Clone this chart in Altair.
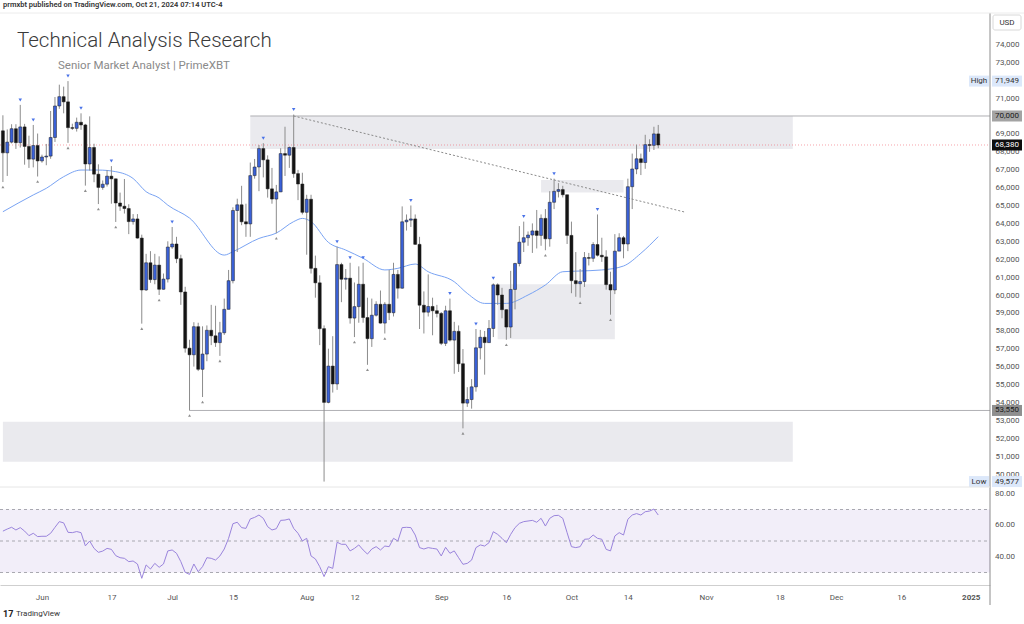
import altair as alt
import pandas as pd

START = "2024-05-23"

opens = [69170, 67940, 68540, 69290, 68510, 69390, 68300, 67590, 68350,
         67490, 67710, 67760, 68800, 70560, 71080, 70790, 69350, 69310, 69650,
         69500, 67320, 68240, 66750, 66010, 66190, 66640, 66490, 65140, 64960,
         64830, 64100, 64250, 63180, 60280, 61800, 60860, 61670, 60320, 60890,
         62680, 62850, 62030, 60170, 57030, 56660, 58230, 55850, 56700, 58030,
         57720, 57340, 57890, 59200, 60800, 64720, 65040, 64090, 63970, 66670,
         67150, 68180, 67550, 65930, 65360, 65760, 67900, 67810, 68240, 66780, 66200,
         64620, 65350, 61490, 60680, 58120, 54000, 56030, 55030, 61700, 60880,
         60940, 58710, 59350, 60600, 58740, 57560, 58870, 59480, 58430, 59480,
         59010, 61150, 60380, 64090, 64180, 64250, 62830, 59430, 59040, 59360, 59120,
         58970, 57300, 59120, 57480, 57970, 56160, 53960, 54160, 54870, 57050,
         57640, 57340, 58130, 60570, 60000, 59180, 58210, 60310, 61760, 62950,
         63200, 63350, 63580, 63330, 64280, 63140, 65180, 65790, 65890, 65600,
         63330, 60800, 60630, 60750, 62090, 62050, 62820, 62220, 62130, 60580,
         60280, 62450, 63200, 62850, 66050, 67040, 67610, 67400, 68400, 68360, 69000]
highs = [70040, 69250, 69540, 69540, 70620, 69560, 68900, 69500, 69020,
         67840, 68440, 70280, 71060, 71750, 71640, 71949, 69570, 69910, 70150,
         69560, 69980, 68450, 67300, 66400, 66980, 67200, 66500, 65720, 66480,
         65070, 64520, 64520, 63370, 62300, 62450, 62300, 62160, 61200, 63000,
         63800, 63250, 62250, 60460, 57500, 58480, 58450, 58250, 58300, 59450,
         59400, 58500, 59800, 61400, 64900, 65380, 66100, 65100, 67400, 67600,
         68380, 68480, 67800, 67100, 66150, 68200, 69400, 68300, 70080, 66990, 66830,
         65600, 65600, 62200, 61100, 58300, 57000, 57700, 62700, 61800, 61450,
         61800, 60700, 61600, 61800, 59850, 59800, 59650, 60250, 59600, 61400,
         61800, 61400, 64950, 64500, 65000, 64500, 63250, 60200, 61150, 59850, 59450,
         59050, 59400, 59800, 58500, 58300, 56980, 54850, 55300, 58100, 58050,
         57990, 58600, 60650, 60650, 60400, 59200, 61350, 61800, 63850, 64100,
         63550, 64000, 64750, 64500, 64800, 65800, 66500, 66250, 66100, 65600,
         64100, 62400, 61450, 62400, 62350, 62950, 64500, 63200, 62500, 61300,
         63400, 63450, 63300, 66500, 67900, 68400, 67900, 68950, 68700, 69400, 69500]
lows = [66310, 66650, 68470, 68160, 68240, 67280, 67100, 67130, 66620,
        67390, 67250, 67610, 68550, 70400, 70150, 68500, 69220, 69130, 69230,
        66110, 66950, 66300, 65080, 65880, 66060, 65100, 64080, 64700, 64550,
        63400, 63930, 63150, 58400, 60230, 60680, 60600, 60000, 60300, 60700,
        62580, 61780, 59450, 56780, 53550, 56000, 55750, 54300, 56300, 57200,
        57100, 56600, 57770, 59200, 60650, 62400, 63900, 63250, 63250, 66500,
        65800, 66570, 65440, 65100, 63450, 65750, 66650, 67100, 66550, 65300, 64500,
        62250, 61200, 59850, 57200, 49577, 53950, 54550, 54700, 59600, 60300,
        58400, 57650, 58450, 58450, 56100, 57100, 58800, 58400, 57850, 58600,
        58800, 59800, 60350, 63600, 63800, 62800, 58100, 57850, 58800, 57750, 58750,
        57200, 57150, 57400, 55600, 55700, 52550, 53750, 53650, 54600, 56400,
        55550, 57330, 57650, 59450, 58700, 57500, 57600, 59200, 61600, 62400,
        62750, 62350, 62600, 62750, 62500, 62700, 64800, 65450, 65450, 62850,
        60100, 59900, 59850, 60450, 61650, 61850, 62150, 61850, 60300, 58900,
        60050, 62450, 62050, 62450, 64800, 66750, 66700, 67050, 68000, 68100, 68200]
closes = [67940, 68540, 69290, 68510, 69390, 68300, 67590, 68350, 67490,
          67710, 67760, 68800, 70560, 71080, 70790, 69350, 69310, 69650, 69500,
          67320, 68240, 66750, 66010, 66190, 66640, 66490, 65140, 64960, 64830,
          64100, 64250, 63180, 60280, 61800, 60860, 61670, 60320, 60890, 62680,
          62850, 62030, 60170, 57030, 56660, 58230, 55850, 56700, 58030, 57720,
          57340, 57890, 59200, 60800, 64720, 65040, 64090, 63970, 66670, 67150,
          68180, 67550, 65930, 65360, 65760, 67900, 67810, 68240, 66780, 66200, 64620,
          65350, 61490, 60680, 58120, 54000, 56030, 55030, 61700, 60880, 60940,
          58710, 59350, 60600, 58740, 57560, 58870, 59480, 58430, 59480, 59010,
          61150, 60380, 64090, 64180, 64250, 62830, 59430, 59040, 59360, 59120, 58970,
          57300, 59120, 57480, 57970, 56160, 53960, 54160, 54870, 57050, 57640,
          57340, 58130, 60570, 60000, 59180, 58210, 60310, 61760, 62950, 63200,
          63350, 63580, 63330, 64280, 63140, 65180, 65790, 65890, 65600, 63330,
          60800, 60630, 60750, 62090, 62050, 62820, 62220, 62130, 60580, 60280,
          62450, 63200, 62850, 66050, 67040, 67610, 67400, 68400, 68360, 69000, 68380]

rsi = [56.3, 57.6, 58.7, 57.0, 58.5, 56.3, 53.4, 54.9, 52.8, 53.0, 53.0, 54.9, 58.7,
       62.3, 61.5, 55.5, 55.3, 56.0, 55.3, 46.9, 50.0, 45.3, 42.8, 43.6, 45.3, 44.7,
       40.7, 39.4, 39.0, 36.9, 37.3, 35.4, 26.3, 34.8, 32.2, 35.8, 33.3, 35.4, 43.7,
       44.3, 42.2, 36.9, 30.1, 28.8, 35.4, 30.5, 33.7, 39.4, 39.0, 37.9, 40.5, 44.9,
       51.7, 61.0, 61.9, 58.5, 58.0, 64.0, 65.0, 66.5, 64.4, 59.1, 57.0, 57.8, 63.1,
       63.3, 64.0, 58.0, 54.9, 50.0, 51.7, 40.5, 38.6, 33.7, 27.4, 33.7, 32.6, 49.2,
       47.9, 47.9, 43.7, 45.3, 47.5, 44.3, 41.7, 44.9, 46.4, 44.3, 46.8, 46.4, 51.7,
       50.0, 58.5, 58.7, 58.5, 53.8, 45.8, 44.9, 45.8, 45.3, 44.9, 40.5, 46.0, 42.2,
       43.7, 39.4, 35.2, 35.8, 37.9, 45.8, 47.5, 46.8, 48.9, 55.9, 54.2, 51.7, 48.9,
       54.2, 58.5, 61.2, 62.3, 62.7, 63.1, 61.9, 64.4, 59.5, 64.4, 66.1, 66.3, 64.4,
       55.3, 46.4, 45.8, 46.4, 51.1, 51.3, 53.8, 51.7, 51.1, 44.7, 43.7, 53.2, 55.3,
       53.8, 63.8, 66.5, 67.4, 66.5, 68.6, 69.0, 70.3, 66.5]

ma_dates = ["2024-05-23", "2024-05-30", "2024-06-02", "2024-06-06", "2024-06-10",
            "2024-06-14", "2024-06-18", "2024-06-22", "2024-06-25", "2024-06-28",
            "2024-06-30", "2024-07-05", "2024-07-13", "2024-07-15", "2024-07-21",
            "2024-07-25", "2024-07-29", "2024-07-31", "2024-08-02", "2024-08-06",
            "2024-08-10", "2024-08-14", "2024-08-19", "2024-08-22", "2024-08-26",
            "2024-08-29", "2024-09-04", "2024-09-07", "2024-09-11", "2024-09-16",
            "2024-09-21", "2024-09-25", "2024-09-29", "2024-10-03", "2024-10-08",
            "2024-10-13", "2024-10-17", "2024-10-21"]
ma_values = [64650, 65590, 65960, 66610, 66980, 66980, 66890, 66510, 65770, 65420,
             65020, 64300, 62230, 62420, 63160, 63460, 64100, 64280, 64100, 62940,
             62510, 62050, 61400, 61490, 61730, 61300, 60740, 60090, 59530, 59530,
             60000, 60560, 61300, 61340, 61400, 61620, 62330, 63260]

pivot_high_dates = ["2024-05-27", "2024-05-30", "2024-06-07", "2024-06-10", "2024-06-17",
                    "2024-07-01", "2024-07-22", "2024-07-29", "2024-08-08", "2024-08-11",
                    "2024-08-14", "2024-08-25", "2024-09-03", "2024-09-09", "2024-09-13",
                    "2024-09-20", "2024-09-27", "2024-10-07"]
pivot_low_dates = ["2024-05-23", "2024-05-31", "2024-06-07", "2024-06-11", "2024-06-14",
                   "2024-06-18", "2024-06-24", "2024-06-28", "2024-07-05", "2024-07-08",
                   "2024-07-12", "2024-07-25", "2024-08-12", "2024-08-15", "2024-08-19",
                   "2024-09-06", "2024-09-16", "2024-09-25", "2024-10-03", "2024-10-10"]

box_start = ["2024-07-19", "2024-09-24", "2024-09-14", "2024-05-23"]
box_end = ["2024-11-21", "2024-10-13", "2024-10-11", "2024-11-21"]
box_top = [70000, 66430, 60600, 52920]
box_bottom = [68150, 65720, 57530, 50690]

hline_start = ["2024-07-19", "2024-07-05"]
hline_price = [70000, 53550]

trend_dates = ["2024-07-29", "2024-10-27"]
trend_prices = [70000, 64640]

last_price = 68380
rsi_levels = [70, 50, 30]
rsi_label_values = [80, 40, 60]

tick_dates = ["2024-06-01", "2024-06-17", "2024-07-01", "2024-07-15", "2024-08-01",
              "2024-08-12", "2024-09-01", "2024-09-16", "2024-10-01", "2024-10-14",
              "2024-11-01", "2024-11-18", "2024-12-01", "2024-12-16", "2025-01-01"]
tick_labels = ["Jun", "17", "Jul", "15", "Aug", "12", "Sep", "16", "Oct", "14",
               "Nov", "18", "Dec", "16", "2025"]
price_ticks = [50000, 51000, 52000, 53000, 54000, 55000, 56000, 57000, 58000, 59000,
               60000, 61000, 62000, 63000, 64000, 65000, 66000, 67000, 68000, 69000,
               71000, 73000, 74000]

t0 = pd.Timestamp(START)


def day(s):
    return (pd.Timestamp(s) - t0).days


FONT = "Roboto"
W, H = 990, 572
XS = alt.Scale(domain=[-0.668, 227.44], nice=False, zero=False, padding=0)
PS = alt.Scale(domain=[49274, 75754], range=[474, 0], nice=False, zero=False)
RS = alt.Scale(domain=[22.06, 84.29], range=[572, 474], nice=False, zero=False)

tick_vals = [day(s) for s in tick_dates]
label_expr = " : ".join(f"datum.value == {v} ? '{l}'" for v, l in zip(tick_vals, tick_labels)) + " : ''"
XA = alt.Axis(values=tick_vals, labelExpr=label_expr, grid=False, ticks=False,
              domain=True, domainColor="#cfcfcf", labelFont=FONT, labelFontSize=8,
              labelColor="#555555", labelPadding=8, title=None, labelFlush=False,
              labelOverlap=False,
              labelFontWeight={"condition": {"test": f"datum.value == {day('2025-01-01')}", "value": "bold"},
                               "value": "normal"})
PA = alt.Axis(orient="right", values=price_ticks, format=",", formatType="number",
              labelExpr="format(datum.value, ',')", grid=False, ticks=False,
              domain=False, labelFont=FONT, labelFontSize=8, labelColor="#555555",
              labelPadding=5, title=None, labelOverlap=False)


def X(f):
    return alt.X(f, type="quantitative", scale=XS, axis=XA)


def YP(f):
    return alt.Y(f, type="quantitative", scale=PS, axis=PA)


def YR(f):
    return alt.Y(f, type="quantitative", scale=RS, axis=None)


df = pd.DataFrame({"d": list(range(len(closes))), "o": opens, "h": highs, "l": lows,
                   "c": closes, "rsi": rsi})
df["dir"] = ["up" if c >= o else "down" for o, c in zip(opens, closes)]

one = pd.DataFrame({"k": [0]})

# ---------- price pane ----------
boxes = alt.Chart(pd.DataFrame({"x0": [day(s) for s in box_start], "x1": [day(s) for s in box_end],
                                "p0": box_top, "p1": box_bottom})).mark_rect(
    color="#e2e2e8", opacity=0.72).encode(x=X("x0"), x2="x1", y=YP("p0"), y2="p1")

hlines = alt.Chart(pd.DataFrame({"x0": [day(s) for s in hline_start], "p": hline_price})).mark_rule(
    color="#b0b0b4", strokeWidth=1).encode(x=X("x0"), x2=alt.value(W), y=YP("p"))

curline = alt.Chart(pd.DataFrame({"p": [last_price]})).mark_rule(
    color="#f05a66", opacity=0.55, strokeDash=[1, 2], strokeWidth=1).encode(
    x=alt.value(0), x2=alt.value(W), y=YP("p"))

trend = alt.Chart(pd.DataFrame({"d": [day(s) for s in trend_dates], "p": trend_prices})).mark_line(
    color="#8a8a8a", strokeDash=[2, 2], strokeWidth=1).encode(x=X("d"), y=YP("p"))

ma = alt.Chart(pd.DataFrame({"d": [day(s) for s in ma_dates], "p": ma_values})).mark_line(
    color="#79a3f3", strokeWidth=1, interpolate="monotone").encode(x=X("d"), y=YP("p"))

wicks = alt.Chart(df).mark_rule(color="#8c8c8c", strokeWidth=1).encode(
    x=X("d"), y=YP("l"), y2="h")

bodies = alt.Chart(df).mark_bar(size=3, stroke="#1d1d1d", strokeWidth=0.5).encode(
    x=X("d"), y=YP("o"), y2="c",
    color=alt.Color("dir:N", scale=alt.Scale(domain=["up", "down"], range=["#3a61d8", "#141414"]),
                    legend=None))

hi_idx = [day(s) for s in pivot_high_dates]
lo_idx = [day(s) for s in pivot_low_dates]
himk = alt.Chart(pd.DataFrame({"d": hi_idx, "p": [highs[i] for i in hi_idx]})).mark_point(
    shape="triangle-down", filled=True, size=12, color="#4a73e8", opacity=1, yOffset=-5).encode(
    x=X("d"), y=YP("p"))
lomk = alt.Chart(pd.DataFrame({"d": lo_idx, "p": [lows[i] for i in lo_idx]})).mark_point(
    shape="triangle-up", filled=True, size=9, color="#8e8e8e", opacity=1, yOffset=5).encode(
    x=X("d"), y=YP("p"))

lab = pd.DataFrame({"p": [71949, 70000, 68380, 53550, 49577],
                    "txt": ["71,949", "70,000", "68,380", "53,550", "49,577"],
                    "bg": ["#dce8fa", "#a3a3a3", "#0e0e0e", "#8f8f8f", "#dce8fa"],
                    "fg": ["#333333", "#1a1a1a", "#ffffff", "#1a1a1a", "#333333"]})
lab_bg = alt.Chart(lab).mark_rule(strokeWidth=11, strokeCap="butt").encode(
    x=alt.value(992), x2=alt.value(1022), y=YP("p"), color=alt.Color("bg:N", scale=None))
lab_tx = alt.Chart(lab).mark_text(align="left", baseline="middle", font=FONT, fontSize=8).encode(
    x=alt.value(995), y=YP("p"), text="txt:N", color=alt.Color("fg:N", scale=None))

side = pd.DataFrame({"p": [71949, 49577], "txt": ["High", "Low"]})
side_bg = alt.Chart(side).mark_rule(strokeWidth=11, strokeCap="butt", color="#dce8fa").encode(
    x=alt.value(969), x2=alt.value(989), y=YP("p"))
side_tx = alt.Chart(side).mark_text(align="center", baseline="middle", font=FONT, fontSize=8,
                                    color="#333333").encode(x=alt.value(979), y=YP("p"), text="txt:N")

usd_box = alt.Chart(one).mark_rect(fill="white", stroke="#d8d8d8", strokeWidth=1, cornerRadius=2).encode(
    x=alt.value(993), x2=alt.value(1021), y=alt.value(2), y2=alt.value(17))
usd_tx = alt.Chart(pd.DataFrame({"t": ["USD"]})).mark_text(
    font=FONT, fontSize=8, color="#333333", align="center", baseline="middle").encode(
    x=alt.value(1007), y=alt.value(9.5), text="t:N")

header = alt.Chart(pd.DataFrame({"t": ["prmxbt published on TradingView.com, Oct 21, 2024 07:14 UTC-4"]})).mark_text(
    font=FONT, fontSize=7.5, fontWeight=600, color="#333333", align="left", baseline="middle").encode(
    x=alt.value(3), y=alt.value(-8), text="t:N")
title = alt.Chart(pd.DataFrame({"t": ["Technical Analysis Research"]})).mark_text(
    font=FONT, fontSize=20.5, fontWeight=300, color="#3a3a3a", align="left", baseline="alphabetic").encode(
    x=alt.value(17), y=alt.value(34), text="t:N")
subtitle = alt.Chart(pd.DataFrame({"t": ["Senior Market Analyst | PrimeXBT"]})).mark_text(
    font=FONT, fontSize=11.5, color="#8a8a8a", align="left", baseline="middle").encode(
    x=alt.value(58), y=alt.value(53), text="t:N")
logo = alt.Chart(pd.DataFrame({"t": ["17"]})).mark_text(
    font=FONT, fontSize=9, fontWeight="bold", color="#222222", align="left", baseline="middle").encode(
    x=alt.value(3), y=alt.value(601), text="t:N")
logo_tx = alt.Chart(pd.DataFrame({"t": ["TradingView"]})).mark_text(
    font=FONT, fontSize=8, color="#333333", align="left", baseline="middle").encode(
    x=alt.value(16), y=alt.value(601), text="t:N")

vsep = alt.Chart(one).mark_rule(color="#8c8c8c", strokeWidth=1).encode(
    x=alt.value(W), y=alt.value(0), y2=alt.value(592))
psep = alt.Chart(one).mark_rule(color="#e6e6e6", strokeWidth=1).encode(
    x=alt.value(0), x2=alt.value(W), y=alt.value(474))
topline = alt.Chart(one).mark_rule(color="#ececec", strokeWidth=1).encode(
    x=alt.value(0), x2=alt.value(1024), y=alt.value(0))

price = alt.layer(boxes, hlines, curline, trend, ma, wicks, bodies, himk, lomk,
                  lab_bg, lab_tx, side_bg, side_tx, usd_box, usd_tx,
                  header, title, subtitle, logo, logo_tx, vsep, psep, topline)

# ---------- RSI pane ----------
band = alt.Chart(pd.DataFrame({"lo": [rsi_levels[2]], "hi": [rsi_levels[0]]})).mark_rect(
    color="#7e57c2", opacity=0.1).encode(x=alt.value(0), x2=alt.value(W), y=YR("lo"), y2="hi")
levels = alt.Chart(pd.DataFrame({"v": rsi_levels})).mark_rule(
    color="#a8a8b0", strokeDash=[3, 3], strokeWidth=1).encode(x=alt.value(0), x2=alt.value(W), y=YR("v"))
rsi_line = alt.Chart(df).mark_line(color="#9a84dc", strokeWidth=1).encode(x=X("d"), y=YR("rsi"))
rsi_labels = alt.Chart(pd.DataFrame({"v": rsi_label_values})).mark_text(
    font=FONT, fontSize=8, color="#555555", align="left", baseline="middle").encode(
    x=alt.value(995), y=YR("v"), text=alt.Text("v:Q", format=".2f"))

rsi_pane = alt.layer(band, levels, rsi_line, rsi_labels)

chart = alt.layer(price, rsi_pane).resolve_scale(y="independent").properties(
    width=W, height=H,
    padding={"left": 0, "top": 13, "right": 34, "bottom": 39},
    autosize=alt.AutoSizeParams(type="none"),
    background="white",
).configure_view(stroke=None)

chart.save("out.html", embed_options={"renderer": "svg", "actions": False})
